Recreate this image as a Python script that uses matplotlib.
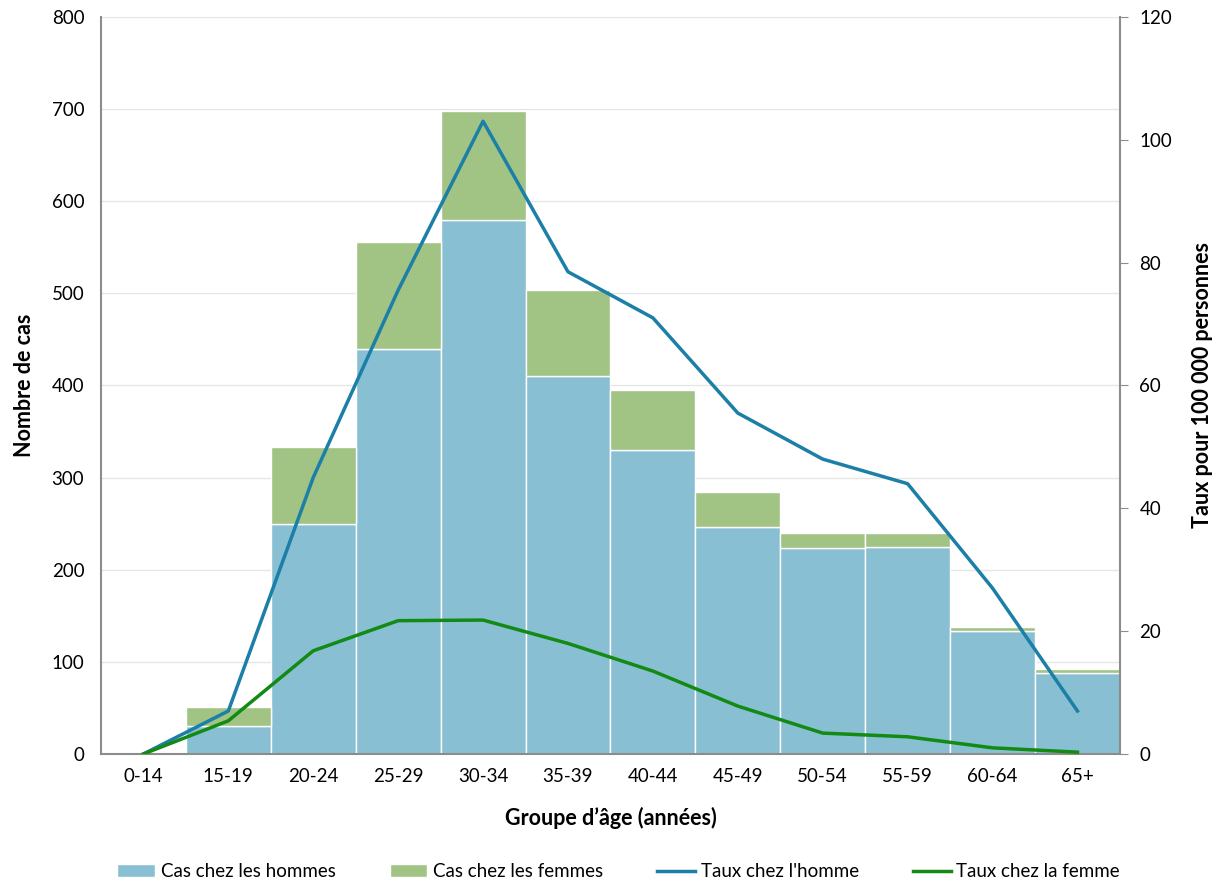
import numpy as np
import matplotlib.pyplot as plt

plt.rcParams['font.family'] = ['Lato', 'DejaVu Sans']

groupes = ['0-14', '15-19', '20-24', '25-29', '30-34', '35-39', '40-44',
           '45-49', '50-54', '55-59', '60-64', '65+']
cas_hommes = [0, 30, 250, 440, 580, 410, 330, 246, 224, 225, 134, 88]
cas_total = [0, 51, 333, 556, 698, 504, 395, 284, 240, 240, 138, 92]
cas_femmes = [t - h for t, h in zip(cas_total, cas_hommes)]
taux_hommes = [0, 7, 45, 75.5, 103, 78.5, 71, 55.5, 48, 44, 27, 7]
taux_femmes = [0, 5.4, 16.8, 21.7, 21.8, 18, 13.5, 7.8, 3.4, 2.8, 1, 0.3]

c_h = '#88bfd3'
c_f = '#a1c384'
c_lh = '#1b7fa8'
c_lf = '#138a13'

fig = plt.figure(figsize=(12.25, 8.86), dpi=100)
ax = fig.add_axes([0.0824, 0.149, 0.8318, 0.832])
x = np.arange(len(groupes))

ax.bar(x, cas_hommes, width=1, color=c_h, edgecolor='white', linewidth=1,
       label='Cas chez les hommes', zorder=2)
ax.bar(x, cas_femmes, width=1, bottom=cas_hommes, color=c_f, edgecolor='white',
       linewidth=1, label='Cas chez les femmes', zorder=2)
ax.set_xlim(-0.5, 11.5)
ax.set_ylim(0, 800)
ax.set_yticks(range(0, 801, 100))
ax.yaxis.grid(True, color='#e6e6e6', linewidth=1, zorder=0)
ax.set_axisbelow(True)
ax.set_xticks(x)
ax.set_xticklabels(groupes)
ax.tick_params(axis='y', length=0, labelsize=13.5, pad=12)
ax.tick_params(axis='x', length=0, labelsize=13.5, pad=10)
for s in ['top', 'right']:
    ax.spines[s].set_visible(False)
for s in ['left', 'bottom']:
    ax.spines[s].set_color('#8c8c8c')
    ax.spines[s].set_linewidth(1.5)
ax.set_ylabel('Nombre de cas', fontsize=15.5, fontweight='bold', labelpad=12)
ax.set_xlabel('Groupe d\u2019\u00e2ge (ann\u00e9es)', fontsize=15.5, fontweight='bold', labelpad=16)

ax2 = ax.twinx()
ax2.plot(x, taux_hommes, color=c_lh, linewidth=2.5, label="Taux chez l'homme")
ax2.plot(x, taux_femmes, color=c_lf, linewidth=2.5, label='Taux chez la femme')
ax2.set_ylim(0, 120)
ax2.set_yticks(range(0, 121, 20))
ax2.tick_params(axis='y', length=6, color='#8c8c8c', labelsize=13.5, pad=8)
for s in ['top', 'left', 'bottom']:
    ax2.spines[s].set_visible(False)
ax2.spines['right'].set_color('#8c8c8c')
ax2.spines['right'].set_linewidth(1.5)
ax2.set_ylabel('Taux pour 100 000 personnes', fontsize=15.5, fontweight='bold', labelpad=14)

h1, l1 = ax.get_legend_handles_labels()
h2, l2 = ax2.get_legend_handles_labels()
fig.legend(h1 + h2, l1 + l2, loc='center', bbox_to_anchor=(0.505, 0.016), ncol=4,
           frameon=False, fontsize=13.5, handlelength=2.0, handletextpad=0.3,
           columnspacing=2.9)

fig.savefig('out.png', dpi=100)
